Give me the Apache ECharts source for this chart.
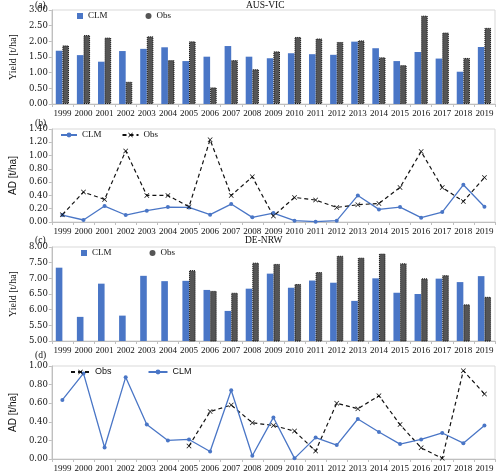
<!DOCTYPE html>
<html><head><meta charset="utf-8">
<script src="https://cdn.jsdelivr.net/npm/echarts@6/dist/echarts.min.js"></script>
<style>html,body{margin:0;padding:0;background:#fff}#c{width:500px;height:473px}</style>
</head><body><div id="c"></div>
<script>
const years = ['1999','2000','2001','2002','2003','2004','2005','2006','2007','2008','2009','2010','2011','2012','2013','2014','2015','2016','2017','2018','2019'];
// (a) AUS-VIC yield
const ausClmYield = [1.70,1.56,1.35,1.69,1.76,1.81,1.37,1.51,1.85,1.51,1.46,1.62,1.59,1.57,1.99,1.78,1.37,1.66,1.45,1.03,1.82];
const ausObsYield = [1.87,2.20,2.12,0.71,2.16,1.40,2.00,0.53,1.40,1.11,1.68,2.14,2.09,1.98,2.03,1.49,1.24,2.82,2.28,1.47,2.43];
// (b) AUS-VIC AD
const ausClmAD = [0.105,0.03,0.24,0.105,0.17,0.225,0.22,0.11,0.27,0.07,0.135,0.02,0.005,0.02,0.40,0.19,0.225,0.065,0.15,0.56,0.23];
const ausObsAD = [0.11,0.45,0.34,1.07,0.40,0.40,0.23,1.24,0.40,0.68,0.09,0.37,0.33,0.22,0.26,0.28,0.52,1.06,0.52,0.31,0.67];
// (c) DE-NRW yield
const deClmYield = [7.34,5.77,6.83,5.81,7.08,6.91,6.92,6.63,5.96,6.67,7.15,6.70,6.93,6.86,6.28,7.00,6.54,6.50,6.99,6.88,7.07];
const deObsYield = [null,null,null,null,null,null,7.26,6.60,6.54,7.50,7.46,6.82,7.20,7.72,7.66,7.79,7.48,7.00,7.10,6.17,6.41];
// (d) DE-NRW AD
const deClmAD = [0.635,0.92,0.124,0.88,0.37,0.20,0.21,0.08,0.74,0.035,0.447,0.007,0.23,0.15,0.43,0.29,0.16,0.21,0.28,0.17,0.36];
const deObsAD = [null,null,null,null,null,null,0.14,0.51,0.58,0.39,0.36,0.30,0.085,0.60,0.54,0.68,0.37,0.12,0.007,0.95,0.70];

const BLUE = '#4a76c6';
const GRAY = '#555555';
const XSYM = 'path://M0,1L1,0L5,4L9,0L10,1L6,5L10,9L9,10L5,6L1,10L0,9L4,5Z';
const serif = 'Liberation Serif';

const grids = [
  {left:35, right:5, top:10, height:94},
  {left:35, right:5, top:129, height:93},
  {left:35, right:5, top:247, height:94},
  {left:35, right:5, top:366, height:94}
].map(g => Object.assign({show:true, borderColor:'#d9d9d9', borderWidth:1, backgroundColor:'transparent'}, g));

const xAxes = grids.map((g,i) => ({
  type:'category', gridIndex:i, data:years, boundaryGap:true,
  axisLine:{lineStyle:{color:'#bfbfbf'}},
  axisTick:{show:true, alignWithLabel:false, length:3, lineStyle:{color:'#bfbfbf'}},
  axisLabel:{color:'#111', fontFamily:serif, fontSize:9, margin:5, interval:0}
}));

function yAx(i, min, max, interval, name, nameFont){
  return {type:'value', gridIndex:i, min, max, interval,
    name, nameLocation:'middle', nameGap:27,
    nameTextStyle:{color:'#111', fontFamily:nameFont, fontSize:10},
    axisLine:{show:true, lineStyle:{color:'#bfbfbf'}},
    axisTick:{show:true, length:3, lineStyle:{color:'#bfbfbf'}},
    splitLine:{show:false},
    axisLabel:{color:'#111', fontFamily:'DejaVu Serif', fontSize:8.5, margin:4, formatter:v=>v.toFixed(2)}
  };
}
const yAxes = [
  yAx(0,0,3,0.5,'Yield [t/ha]',serif),
  yAx(1,0,1.4,0.2,'AD [t/ha]','Liberation Sans'),
  yAx(2,5,8,0.5,'Yield [t/ha]',serif),
  yAx(3,0,1,0.2,'AD [t/ha]','Liberation Sans')
];

function barClm(name, data, i){
  return {name, type:'bar', xAxisIndex:i, yAxisIndex:i, data, barWidth:6.6, barGap:'0%',
    itemStyle:{color:BLUE}};
}
function barObs(name, data, i){
  return {name, type:'bar', xAxisIndex:i, yAxisIndex:i, data, barWidth:6.6, barGap:'0%',
    itemStyle:{color:GRAY, borderColor:'#111', borderWidth:1, borderType:'dotted'}};
}
function lineClm(name, data, i){
  return {name, type:'line', xAxisIndex:i, yAxisIndex:i, data, symbol:'circle', symbolSize:4,
    lineStyle:{color:BLUE, width:1.3}, itemStyle:{color:BLUE}};
}
function lineObs(name, data, i){
  return {name, type:'line', xAxisIndex:i, yAxisIndex:i, data, symbol:XSYM, symbolSize:5,
    lineStyle:{color:'#111', width:1.2, type:[4,3]}, itemStyle:{color:'#111'}};
}

const series = [
  barClm('CLM_a', ausClmYield, 0), barObs('Obs_a', ausObsYield, 0),
  lineClm('CLM_b', ausClmAD, 1), lineObs('Obs_b', ausObsAD, 1),
  barClm('CLM_c', deClmYield, 2), barObs('Obs_c', deObsYield, 2),
  lineObs('Obs_d', deObsAD, 3), lineClm('CLM_d', deClmAD, 3)
];

const fmt = n => n.split('_')[0];
const legends = [
  {left:77, top:11.5, itemWidth:6, itemHeight:6, itemGap:38, data:[{name:'CLM_a', icon:'rect'},{name:'Obs_a', icon:'circle'}],
   textStyle:{fontFamily:serif, fontSize:9, color:'#111'}, formatter:fmt},
  {left:60, top:130.5, itemWidth:16, itemHeight:6, itemGap:20, data:['CLM_b','Obs_b'],
   textStyle:{fontFamily:serif, fontSize:9, color:'#111'}, formatter:fmt},
  {left:81, top:248.5, itemWidth:6, itemHeight:6, itemGap:38, data:[{name:'CLM_c', icon:'rect'},{name:'Obs_c', icon:'circle'}],
   textStyle:{fontFamily:serif, fontSize:9, color:'#111'}, formatter:fmt},
  {left:70, top:367.5, itemWidth:19, itemHeight:6, itemGap:36, data:['Obs_d','CLM_d'],
   textStyle:{fontFamily:'Liberation Sans', fontSize:9, color:'#111'}, formatter:fmt}
].map(l => Object.assign({selectedMode:false, padding:0, itemStyle:{borderWidth:0}}, l));

const titles = [
  {text:'(a)', left:35, top:0},
  {text:'AUS-VIC', left:246, top:0},
  {text:'(b)', left:35, top:118},
  {text:'(c)', left:35, top:235},
  {text:'DE-NRW', left:245, top:235},
  {text:'(d)', left:35, top:350}
].map(t => Object.assign({padding:0, textStyle:{fontFamily:serif, fontSize:9.5, fontWeight:'normal', color:'#111'}}, t));

const chart = echarts.init(document.getElementById('c'), null, {renderer:'canvas'});
chart.setOption({
  animation:false, backgroundColor:'#fff',
  title:titles, legend:legends, grid:grids, xAxis:xAxes, yAxis:yAxes, series
});
</script></body></html>
